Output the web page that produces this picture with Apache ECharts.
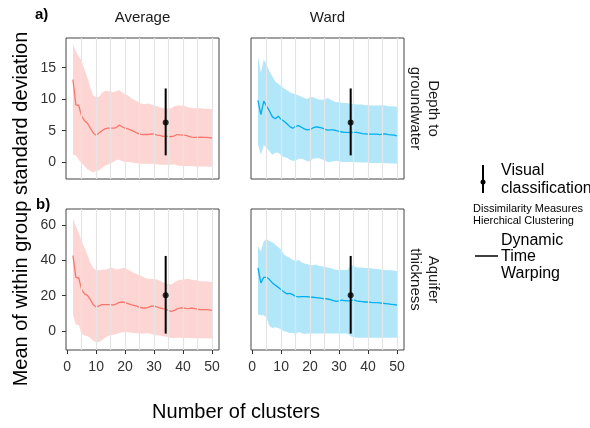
<!DOCTYPE html>
<html>
<head>
<meta charset="utf-8">
<script src="https://cdn.jsdelivr.net/npm/echarts@6/dist/echarts.min.js"></script>
<style>
html, body { margin: 0; padding: 0; background: #fff; }
#chart { width: 590px; height: 428px; }
</style>
</head>
<body>
<div id="chart"></div>
<script>
const RED = '#F8766D';
const RED_BAND = 'rgba(248,118,109,0.3)';
const BLUE = '#00AEEF';
const BLUE_BAND = 'rgba(0,174,239,0.3)';
const FONT = '"Liberation Sans", Arial, sans-serif';

const clusters = [2, 3, 4, 5, 6, 7, 8, 9, 10,
    11, 12, 13, 14, 15, 16, 17, 18, 19, 20,
    21, 22, 23, 24, 25, 26, 27, 28, 29, 30,
    31, 32, 33, 34, 35, 36, 37, 38, 39, 40,
    41, 42, 43, 44, 45, 46, 47, 48, 49, 50];

const gridLinesX = [5, 10, 15, 20, 25, 30, 35, 40, 45, 50];
const xTicks = [0, 10, 20, 30, 40, 50];
const depthTicks = [0, 5, 10, 15];
const thickTicks = [0, 20, 40, 60];

// Average - depth to groundwater
const avgDepthMean = [13.1, 9.1, 9.0, 7.3, 6.6, 6.2, 5.4, 4.65, 4.3,
    4.65, 5.0, 5.3, 5.4, 5.4, 5.4, 5.5, 5.9, 5.6, 5.4,
    5.3, 5.1, 4.9, 4.65, 4.45, 4.4, 4.4, 4.4, 4.5, 4.45,
    4.3, 4.25, 4.1, 4.15, 4.1, 4.05, 4.2, 4.4, 4.35, 4.3,
    4.25, 4.1, 4.0, 3.95, 3.95, 4.0, 3.95, 3.95, 3.9, 3.85];
const avgDepthUpper = [18.7, 17.6, 16.8, 16.0, 14.7, 13.4, 11.8, 10.6, 10.3,
    10.4, 11.0, 11.3, 11.3, 11.2, 11.1, 11.3, 11.4, 11.1, 10.8,
    10.6, 10.2, 9.9, 9.7, 9.4, 9.25, 9.25, 9.3, 9.15, 9.0,
    8.9, 8.7, 8.6, 8.6, 8.5, 8.6, 8.9, 9.0, 9.0, 8.95,
    8.85, 8.7, 8.6, 8.55, 8.6, 8.55, 8.5, 8.5, 8.45, 8.45];
const avgDepthLower = [1.2, 1.1, 0.4, -0.1, -0.6, -1.1, -1.4, -1.6, -1.4,
    -1.3, -0.9, -0.6, -0.35, -0.1, 0.05, 0.35, 0.4, 0.15, 0.05,
    0.05, 0.0, -0.1, -0.15, -0.2, -0.25, -0.25, -0.25, -0.25, -0.25,
    -0.35, -0.4, -0.4, -0.4, -0.4, -0.4, -0.3, -0.5, -0.55, -0.6,
    -0.6, -0.6, -0.6, -0.65, -0.65, -0.65, -0.65, -0.65, -0.7, -0.7];

// Ward - depth to groundwater
const wardDepthMean = [9.8, 7.55, 9.7, 8.9, 8.1, 7.2, 6.9, 7.3, 6.8,
    6.5, 6.1, 5.65, 5.4, 5.7, 5.8, 5.55, 5.3, 5.15, 5.2,
    5.45, 5.6, 5.55, 5.45, 5.25, 5.1, 5.15, 5.15, 5.0, 4.9,
    4.8, 4.75, 4.75, 4.7, 4.75, 4.75, 4.65, 4.55, 4.5, 4.45,
    4.45, 4.45, 4.45, 4.4, 4.45, 4.5, 4.4, 4.35, 4.3, 4.2];
const wardDepthUpper = [16.8, 14.2, 16.3, 15.5, 14.4, 13.6, 12.8, 12.4, 12.1,
    11.7, 11.4, 11.1, 10.9, 10.8, 10.6, 10.4, 10.2, 10.05, 10.35,
    10.3, 10.1, 9.95, 9.9, 9.95, 10.2, 9.95, 9.7, 9.5, 9.5,
    9.45, 9.4, 9.35, 9.3, 9.25, 9.15, 9.15, 9.15, 9.05, 9.05,
    9.0, 9.0, 9.0, 9.0, 9.05, 9.0, 8.9, 8.9, 8.85, 8.8];
const wardDepthLower = [2.8, 1.2, 2.7, 2.3, 1.7, 1.2, 1.5, 1.5, 1.1,
    0.8, 0.7, 0.4, 0.25, 0.25, 0.55, 0.55, 0.4, 0.15, 0.15,
    0.55, 0.65, 0.65, 0.5, 0.3, 0.05, 0.05, 0.15, 0.25, 0.15,
    0.05, 0.05, 0.05, 0.05, 0.05, 0.0, 0.0, -0.05, -0.05, -0.05,
    -0.1, -0.1, -0.1, -0.1, -0.1, -0.15, -0.15, -0.2, -0.2, -0.25];

// Average - aquifer thickness
const avgThickMean = [42.7, 30.4, 30.0, 23.4, 21.0, 20.2, 17.8, 14.9, 13.6,
    14.2, 14.9, 14.9, 14.9, 14.9, 14.7, 15.3, 16.2, 16.4, 16.0,
    15.5, 14.9, 14.5, 14.0, 13.4, 13.0, 13.0, 13.4, 14.0, 14.0,
    13.6, 13.0, 12.7, 12.5, 11.5, 11.1, 11.7, 12.5, 13.0, 13.0,
    12.8, 12.7, 13.0, 12.7, 12.3, 12.1, 12.1, 12.1, 11.9, 11.7];
const avgThickUpper = [64.0, 59.3, 55.5, 50.8, 47.0, 43.2, 38.5, 35.7, 34.4,
    34.4, 34.6, 34.8, 35.1, 36.0, 35.5, 34.8, 35.1, 35.7, 35.7,
    34.8, 33.8, 32.9, 32.3, 31.4, 30.8, 30.0, 29.5, 29.5, 29.5,
    29.1, 28.5, 27.8, 27.2, 26.6, 26.3, 27.6, 28.5, 29.0, 29.0,
    29.4, 29.4, 29.0, 28.8, 28.6, 28.1, 28.1, 28.1, 27.9, 27.8];
const avgThickLower = [9.3, 3.6, 3.2, -1.7, -2.6, -3.0, -4.0, -5.5, -6.4,
    -6.2, -5.3, -4.0, -3.0, -2.5, -2.1, -1.7, -1.1, -0.8, -0.6,
    -0.8, -1.0, -1.1, -1.3, -1.5, -1.5, -1.5, -1.3, -1.7, -2.1,
    -2.5, -2.6, -3.0, -3.2, -3.6, -4.0, -4.0, -3.8, -3.9, -4.0,
    -4.0, -4.0, -4.1, -4.1, -4.1, -4.2, -4.2, -4.2, -4.3, -4.3];

// Ward - aquifer thickness
const wardThickMean = [35.7, 27.2, 30.4, 30.4, 29.1, 27.2, 25.9, 24.7, 23.4,
    22.1, 21.0, 21.3, 20.6, 19.6, 19.3, 19.5, 19.5, 19.5, 19.1,
    19.1, 18.9, 18.7, 18.5, 18.3, 18.1, 17.8, 17.2, 16.8, 17.0,
    17.4, 17.2, 17.0, 17.2, 17.6, 17.0, 16.8, 16.6, 16.4, 16.4,
    16.2, 16.1, 16.1, 15.9, 15.7, 15.5, 15.3, 15.1, 14.9, 14.7];
const wardThickUpper = [48.0, 45.1, 50.8, 52.1, 50.8, 50.2, 48.9, 47.4, 46.1,
    43.2, 42.3, 41.4, 40.4, 39.5, 40.4, 38.9, 38.2, 38.0, 37.2,
    37.2, 37.6, 37.0, 36.6, 36.4, 36.0, 35.7, 35.1, 34.7, 34.4,
    34.7, 34.4, 34.7, 37.6, 36.8, 36.0, 36.0, 35.9, 35.7, 35.7,
    35.5, 35.3, 35.1, 34.9, 34.7, 34.6, 34.4, 34.4, 34.2, 33.8];
const wardThickLower = [9.3, 8.9, 8.9, 7.4, 2.6, 1.7, 2.1, 1.7, 0.8,
    -0.2, -0.6, -1.1, -1.1, -1.7, -0.6, -1.1, -1.7, -1.5, -1.5,
    -1.5, -1.5, -1.5, -1.5, -1.5, -1.5, -1.5, -1.5, -1.5, -1.5,
    -1.5, -1.5, -1.6, -3.0, -3.6, -3.8, -3.8, -3.8, -3.8, -3.8,
    -3.8, -3.8, -3.8, -3.9, -3.9, -3.9, -3.9, -3.9, -3.9, -3.9];

// Visual classification: [clusters, mean, low, high]
const visualDepth = [34, 6.3, 1.1, 11.7];
const visualThick = [34, 20.2, -1.5, 42.5];

function pairs(values) {
    return clusters.map((c, i) => [c, values[i]]);
}

const panels = [
    { mean: avgDepthMean, lower: avgDepthLower, upper: avgDepthUpper, color: RED, band: RED_BAND, visual: visualDepth },
    { mean: wardDepthMean, lower: wardDepthLower, upper: wardDepthUpper, color: BLUE, band: BLUE_BAND, visual: visualDepth },
    { mean: avgThickMean, lower: avgThickLower, upper: avgThickUpper, color: RED, band: RED_BAND, visual: visualThick },
    { mean: wardThickMean, lower: wardThickLower, upper: wardThickUpper, color: BLUE, band: BLUE_BAND, visual: visualThick }
];

const grids = [
    { left: 66, top: 38, width: 153, height: 141 },
    { left: 251, top: 38, width: 153, height: 141 },
    { left: 66, top: 209, width: 153, height: 141 },
    { left: 251, top: 209, width: 153, height: 141 }
].map(g => ({ ...g, show: true, borderColor: '#444', borderWidth: 1, backgroundColor: '#fff' }));

const xAxes = grids.map((g, i) => {
    const bottom = i >= 2;
    return {
        type: 'value', gridIndex: i, min: -0.4, max: 52.4,
        axisLine: { show: false, onZero: false },
        splitLine: { show: false },
        axisTick: { show: bottom, customValues: xTicks, length: 4, lineStyle: { color: '#333' } },
        axisLabel: { show: bottom, customValues: xTicks, margin: 10, fontSize: 14, color: '#333', fontFamily: FONT }
    };
});

const yAxes = grids.map((g, i) => {
    const left = i % 2 === 0;
    const ticks = i < 2 ? depthTicks : thickTicks;
    return {
        type: 'value', gridIndex: i,
        min: i < 2 ? -2.65 : -10.8,
        max: i < 2 ? 19.7 : 69.1,
        axisLine: { show: false, onZero: false },
        splitLine: { show: false },
        axisTick: { show: left, customValues: ticks, length: 4, lineStyle: { color: '#333' } },
        axisLabel: { show: left, customValues: ticks, margin: 10, fontSize: 14, color: '#333', fontFamily: FONT }
    };
});

// ribbon drawn once as one polygon: upper edge forward, lower edge back
function ribbonRenderer(p) {
    return function(params, api) {
        if (params.dataIndex !== 0) return null;
        const top = clusters.map((c, k) => api.coord([c, p.upper[k]]));
        const bottom = clusters.map((c, k) => api.coord([c, p.lower[k]])).reverse();
        return {
            type: 'polygon',
            shape: { points: top.concat(bottom) },
            style: { fill: p.band, stroke: null }
        };
    };
}

const series = [];
panels.forEach((p, i) => {
    // invisible carrier for the vertical grid lines
    series.push({
        type: 'line', xAxisIndex: i, yAxisIndex: i, z: 1,
        data: pairs(p.mean), symbol: 'none',
        lineStyle: { opacity: 0 },
        markLine: {
            silent: true, symbol: 'none', label: { show: false },
            lineStyle: { color: '#E4E4E4', width: 1.2, type: 'solid' },
            data: gridLinesX.map(v => ({ xAxis: v }))
        }
    });
    series.push({
        type: 'custom', xAxisIndex: i, yAxisIndex: i, z: 2,
        data: clusters.map((c, k) => [c, p.lower[k], p.upper[k]]),
        encode: { x: 0, y: [1, 2] },
        renderItem: ribbonRenderer(p)
    });
    series.push({
        type: 'line', xAxisIndex: i, yAxisIndex: i, z: 3,
        data: pairs(p.mean), symbol: 'none',
        lineStyle: { color: p.color, width: 1.3 }
    });
    // visual classification error bar
    const v = p.visual;
    series.push({
        type: 'line', xAxisIndex: i, yAxisIndex: i, z: 4,
        data: [[v[0], v[2]], [v[0], v[3]]], symbol: 'none',
        lineStyle: { color: '#000', width: 2 }
    });
    series.push({
        type: 'scatter', xAxisIndex: i, yAxisIndex: i, z: 5,
        data: [[v[0], v[1]]], symbolSize: 6,
        itemStyle: { color: '#000' }
    });
});

const txt = { fontFamily: FONT, fill: '#1a1a1a' };

const graphic = [
    { type: 'text', left: 35, top: 7, style: { ...txt, text: 'a)', fontSize: 15, fontWeight: 'bold', fill: '#000' } },
    { type: 'text', left: 36, top: 197, style: { ...txt, text: 'b)', fontSize: 15, fontWeight: 'bold', fill: '#000' } },
    { type: 'text', x: 142.5, y: 18, style: { ...txt, text: 'Average', fontSize: 15, align: 'center', verticalAlign: 'middle' } },
    { type: 'text', x: 327.5, y: 18, style: { ...txt, text: 'Ward', fontSize: 15, align: 'center', verticalAlign: 'middle' } },
    { type: 'text', x: 424, y: 108.5, rotation: -Math.PI / 2,
      style: { ...txt, text: 'Depth to\ngroundwater', fontSize: 15, lineHeight: 18, align: 'center', verticalAlign: 'middle' } },
    { type: 'text', x: 424, y: 279.5, rotation: -Math.PI / 2,
      style: { ...txt, text: 'Aquifer\nthickness', fontSize: 15, lineHeight: 18, align: 'center', verticalAlign: 'middle' } },
    { type: 'text', x: 21, y: 209, rotation: Math.PI / 2,
      style: { ...txt, fill: '#000', text: 'Mean of within group standard deviation', fontSize: 20, align: 'center', verticalAlign: 'middle' } },
    { type: 'text', x: 236, y: 412, style: { ...txt, fill: '#000', text: 'Number of clusters', fontSize: 20, align: 'center', verticalAlign: 'middle' } },
    // legend
    { type: 'line', shape: { x1: 483, y1: 165, x2: 483, y2: 193 }, style: { stroke: '#000', lineWidth: 2 } },
    { type: 'circle', shape: { cx: 483, cy: 182, r: 2.5 }, style: { fill: '#000' } },
    { type: 'text', x: 501, y: 180, style: { ...txt, fill: '#000', text: 'Visual\nclassification', fontSize: 16, lineHeight: 18, verticalAlign: 'middle' } },
    { type: 'text', x: 473, y: 215, style: { ...txt, fill: '#000', text: 'Dissimilarity Measures\nHierchical Clustering', fontSize: 11, lineHeight: 12, verticalAlign: 'middle' } },
    { type: 'line', shape: { x1: 475, y1: 256, x2: 498, y2: 256 }, style: { stroke: '#000', lineWidth: 1.5 } },
    { type: 'text', x: 501, y: 257, style: { ...txt, fill: '#000', text: 'Dynamic\nTime\nWarping', fontSize: 16, lineHeight: 16.5, verticalAlign: 'middle' } }
];

const option = {
    animation: false,
    backgroundColor: '#fff',
    grid: grids,
    xAxis: xAxes,
    yAxis: yAxes,
    series: series,
    graphic: graphic
};

const myChart = echarts.init(document.getElementById('chart'));
myChart.setOption(option);
</script>
</body>
</html>
